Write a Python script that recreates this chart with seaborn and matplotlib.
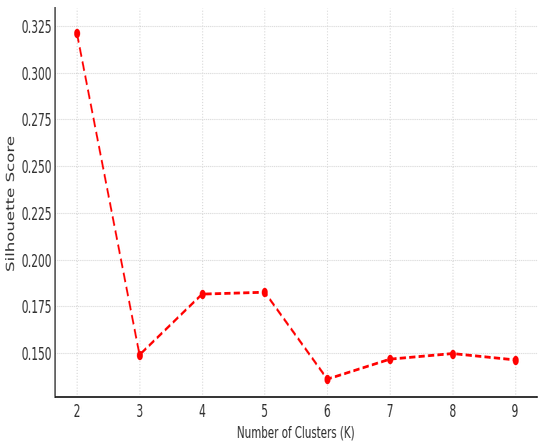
import matplotlib
matplotlib.use('Agg')
import matplotlib.pyplot as plt
import seaborn as sns
import numpy as np
import pandas as pd
from PIL import Image

# Silhouette scores for each K
clusters = [2, 3, 4, 5, 6, 7, 8, 9]
scores = [0.321, 0.149, 0.1815, 0.1825, 0.136, 0.1467, 0.1497, 0.1463]
ytick_vals = [0.150, 0.175, 0.200, 0.225, 0.250, 0.275, 0.300, 0.325]

df = pd.DataFrame({'K': clusters, 'score': scores})

sns.set_style('whitegrid', {'grid.linestyle': ':', 'grid.color': '#c8c8c8'})
plt.rcParams['font.family'] = ['DejaVu Sans']

# the reference looks horizontally squeezed, so draw wide and shrink after
squeeze = 0.64
fig = plt.figure(figsize=(5.5 / squeeze, 4.48), dpi=100)
ax = fig.add_axes([0.1, 0.114, 0.876, 0.868])

sns.lineplot(data=df, x='K', y='score', ax=ax, color='red', linestyle='--',
             linewidth=2.0, marker='o', markersize=6, markeredgecolor='red',
             dashes=False)
ax.lines[0].set_linestyle((0, (3.5, 1.8)))

ax.set_xticks(clusters)
ax.set_xlim(1.65, 9.35)
ax.set_ylim(0.1265, 0.3345)
ax.set_yticks(ytick_vals)
ax.set_yticklabels([f'{v:.3f}' for v in ytick_vals])

ax.set_xlabel('Number of Clusters (K)', fontsize=11.5, color='#333333', labelpad=3)
ax.set_ylabel('Silhouette Score', fontsize=12, color='#333333', labelpad=4.5)
ax.tick_params(labelsize=12, colors='#333333', direction='in', length=3, width=1)
ax.tick_params(axis='x', pad=4.3)
ax.tick_params(axis='y', pad=3.4)

for side in ['top', 'right']:
    ax.spines[side].set_visible(False)
for side in ['left', 'bottom']:
    ax.spines[side].set_color('#333333')
    ax.spines[side].set_linewidth(1.4)

fig.canvas.draw()
buf = np.asarray(fig.canvas.buffer_rgba())
Image.fromarray(buf).convert('RGB').resize((550, 448), Image.LANCZOS).save('out.png')
